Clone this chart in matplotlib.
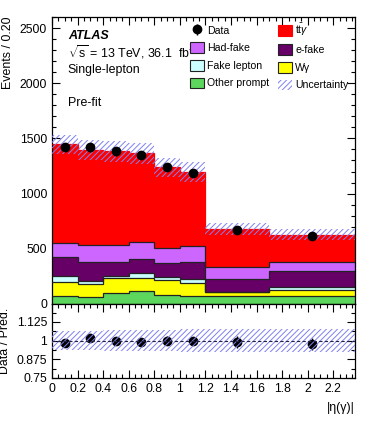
import numpy as np
import matplotlib
matplotlib.use("Agg")
import matplotlib.pyplot as plt
from matplotlib.patches import Patch
from matplotlib.ticker import MultipleLocator, FixedLocator, FuncFormatter

plt.rcParams['font.family'] = ['Liberation Sans', 'DejaVu Sans']
plt.rcParams['mathtext.fontset'] = 'custom'
plt.rcParams['mathtext.rm'] = 'Liberation Sans'
plt.rcParams['mathtext.it'] = 'Liberation Sans:italic'
plt.rcParams['mathtext.bf'] = 'Liberation Sans:bold'
plt.rcParams['hatch.linewidth'] = 0.7

# ---------------- data ----------------
edges = [0, 0.2, 0.4, 0.6, 0.8, 1.0, 1.2, 1.7, 2.37]
other_prompt = [73, 61, 103, 118, 82, 73, 72, 72]
wgamma = [127, 118, 136, 115, 136, 115, 34, 55]
fake_lepton = [55, 33, 16, 46, 24, 39, 6, 25]
e_fake = [169, 173, 124, 127, 128, 158, 115, 148]
had_fake = [133, 151, 157, 160, 136, 142, 106, 85]
ttgamma = [888, 858, 849, 798, 733, 667, 346, 242]
data = [1421, 1418, 1382, 1352, 1239, 1191, 673, 612]
rel_unc = [0.062, 0.066, 0.068, 0.07, 0.068, 0.075, 0.078, 0.078]

labels = ['Other prompt', 'W\u03b3', 'Fake lepton', 'e-fake', 'Had-fake', r'$\mathrm{t\bar{t}}\gamma$']
colors = ['#5CD65C', '#FFFF00', '#CCFFFF', '#660066', '#CC66FF', '#FF0000']
linecols = ['#222222', '#222222', '#222222', '#222222', '#222222', '#FF0000']
hatch_col = '#8080F0'

edges_a = np.array(edges)
centers = 0.5 * (edges_a[1:] + edges_a[:-1])
comps = [other_prompt, wgamma, fake_lepton, e_fake, had_fake, ttgamma]

W, H = 374, 421
fig = plt.figure(figsize=(W / 100, H / 100), dpi=100)
L, R = 52 / W, 355 / W
ax = fig.add_axes([L, 1 - 304 / H, R - L, (304 - 17) / H])
ax2 = fig.add_axes([L, 1 - 378 / H, R - L, (378 - 304) / H], sharex=ax)

# stack
base = np.zeros(len(centers))
handles = {}
for vals, lab, col, lc in zip(comps, labels, colors, linecols):
    top = base + np.array(vals)
    ax.stairs(top, edges, baseline=base, fill=True, color=col, lw=0, zorder=2)
    ax.stairs(top, edges, baseline=None, color=lc, lw=0.9, zorder=3)
    handles[lab] = Patch(facecolor=col, edgecolor=(lc if col != '#FF0000' else col), lw=0.8)
    base = top
total = base
unc = total * np.array(rel_unc)

ax.stairs(total + unc, edges, baseline=total - unc, fill=True, facecolor='none',
          edgecolor=hatch_col, hatch='//////', lw=0, zorder=4)
data_a = np.array(data)
eb = ax.errorbar(centers, data_a, yerr=np.sqrt(data_a), fmt='o', color='black',
                 ms=6, elinewidth=1, capsize=0, zorder=5)

ax.set_xlim(0, 2.37)
ax.set_ylim(0, 2600)
ax.yaxis.set_major_locator(MultipleLocator(500))
ax.yaxis.set_minor_locator(MultipleLocator(100))
ax.xaxis.set_major_locator(MultipleLocator(0.2))
ax.xaxis.set_minor_locator(MultipleLocator(0.05))
for a in (ax, ax2):
    a.tick_params(which='both', direction='in', top=True, right=True, labelsize=8.8)
    a.tick_params(which='major', length=6, width=0.8)
    a.tick_params(which='minor', length=3, width=0.8)
    for s in a.spines.values():
        s.set_linewidth(0.9)
ax.tick_params(labelbottom=False)
ax.set_ylabel('Events / 0.20', loc='top', fontsize=8.9, labelpad=4)

# ratio panel
hatch_patch = Patch(facecolor='none', edgecolor=hatch_col, hatch='//////', lw=0)
ratio = data_a / total
ratio_err = np.sqrt(data_a) / total
ax2.errorbar(centers, ratio, yerr=ratio_err, fmt='o', color='black', ms=6,
             elinewidth=1, capsize=0, zorder=3)
ax2.stairs(1 + np.array(rel_unc), edges, baseline=1 - np.array(rel_unc), fill=True,
           facecolor='none', edgecolor=hatch_col, hatch='//////', lw=0, zorder=4)
ax2.axhline(1, color='#222244', ls=(0, (3, 2)), lw=0.8, zorder=5)
ax2.set_ylim(0.75, 1.245)
ax2.yaxis.set_major_locator(FixedLocator([0.75, 0.875, 1.0, 1.125]))
ax2.yaxis.set_minor_locator(MultipleLocator(0.0625))
ax2.yaxis.set_major_formatter(FuncFormatter(lambda v, p: '%g' % v))
ax2.xaxis.set_major_formatter(FuncFormatter(lambda v, p: '%g' % round(v, 2)))
ax2.set_ylabel('Data / Pred.', fontsize=8.9, labelpad=4)
ax2.set_xlabel('|\u03b7(\u03b3)|', loc='right', fontsize=8.9, labelpad=5)
fig.align_ylabels([ax, ax2])

# texts
ax.text(0.052, 0.933, 'ATLAS', transform=ax.transAxes, fontsize=9,
        fontweight='bold', fontstyle='italic', va='center')
ax.text(0.052, 0.876, r'$\sqrt{\mathrm{s}}$ = 13 TeV, 36.1  fb$^{-1}$', transform=ax.transAxes,
        fontsize=8.9, va='center')
ax.text(0.052, 0.815, 'Single-lepton', transform=ax.transAxes, fontsize=8.9, va='center')
ax.text(0.052, 0.700, 'Pre-fit', transform=ax.transAxes, fontsize=8.9, va='center')

leg_handles = [eb, handles['Had-fake'], handles['Fake lepton'], handles['Other prompt'],
               handles[labels[5]], handles['e-fake'], handles['W\u03b3'], hatch_patch]
leg_labels = ['Data', 'Had-fake', 'Fake lepton', 'Other prompt',
              labels[5], 'e-fake', 'W\u03b3', 'Uncertainty']
ax.legend(leg_handles, leg_labels, ncol=2, loc='upper left',
          bbox_to_anchor=(0.455, 0.983), frameon=False, fontsize=7.6,
          handlelength=1.3, handleheight=1.2, handletextpad=0.3,
          labelspacing=0.62, columnspacing=0.9, borderaxespad=0, borderpad=0)

fig.savefig('out.png', dpi=100)
